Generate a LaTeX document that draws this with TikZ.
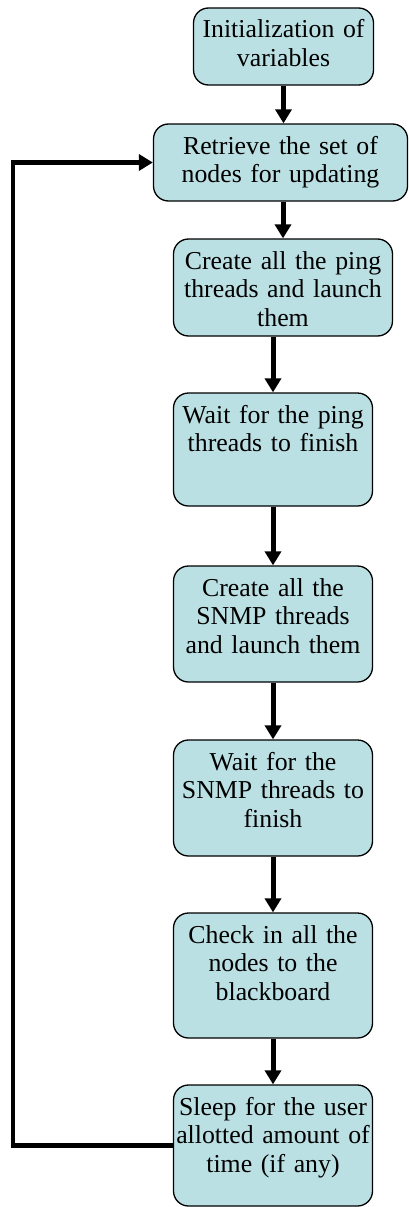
\documentclass[tikz,border=0pt]{standalone}
\usepackage{fontspec}
\setmainfont{Liberation Serif}[WordSpace=0.8]
\usetikzlibrary{arrows.meta}
\definecolor{boxfill}{RGB}{187,224,227}
\tikzset{
  stepbox/.style={draw=black, line width=1.3pt, fill=boxfill, rounded corners=15pt,
    inner xsep=2pt, inner ysep=12pt, text height=18pt, align=center,
    font=\fontsize{25.8}{28.5}\selectfont},
  flow/.style={line width=5pt, -{Triangle[length=14pt,width=16pt]}},
  loopline/.style={line width=4.5pt, -{Triangle[length=14pt,width=16pt]}}
}
\begin{document}
\begin{tikzpicture}[x=1pt, y=-1pt]
\useasboundingbox (0,0) rectangle (409,1207);

\node[stepbox, text width=176pt, text depth=35pt] (b1) at (283.5,46.5)
  {Initialization of\\variables};
\node[stepbox, text width=250pt, text depth=35pt] (b2) at (280.5,162.5)
  {Retrieve the set of\\nodes for updating};
\node[stepbox, text width=215pt, text depth=55pt] (b3) at (283,287.5)
  {Create all the ping\\threads and launch\\them};
\node[stepbox, text width=195pt, text depth=71pt] (b4) at (273,449.5)
  {Wait for the ping\\threads to finish};
\node[stepbox, text width=195pt, text depth=74pt] (b5) at (273,624)
  {Create all the\\SNMP threads\\and launch them};
\node[stepbox, text width=195pt, text depth=74pt] (b6) at (273,798)
  {Wait for the\\SNMP threads to\\finish};
\node[stepbox, text width=195pt, text depth=83pt] (b7) at (273,975.5)
  {Check in all the\\nodes to the\\blackboard};
\node[stepbox, text width=195pt, text depth=79pt] (b8) at (273,1145.5)
  {Sleep for the user\\allotted amount of\\time (if any)};

\coordinate (lp) at (13,0);

\draw[flow] (b1.south) -- (b1.south |- b2.north);
\draw[flow] (b3.north |- b2.south) -- (b3.north);
\draw[flow] (b4.north |- b3.south) -- (b4.north);
\draw[flow] (b4.south) -- (b5.north);
\draw[flow] (b5.south) -- (b6.north);
\draw[flow] (b6.south) -- (b7.north);
\draw[flow] (b7.south) -- (b8.north);

\draw[loopline] (b8.west) -- (b8.west -| lp) -- (b2.west -| lp) -- (b2.west);
\end{tikzpicture}
\end{document}
